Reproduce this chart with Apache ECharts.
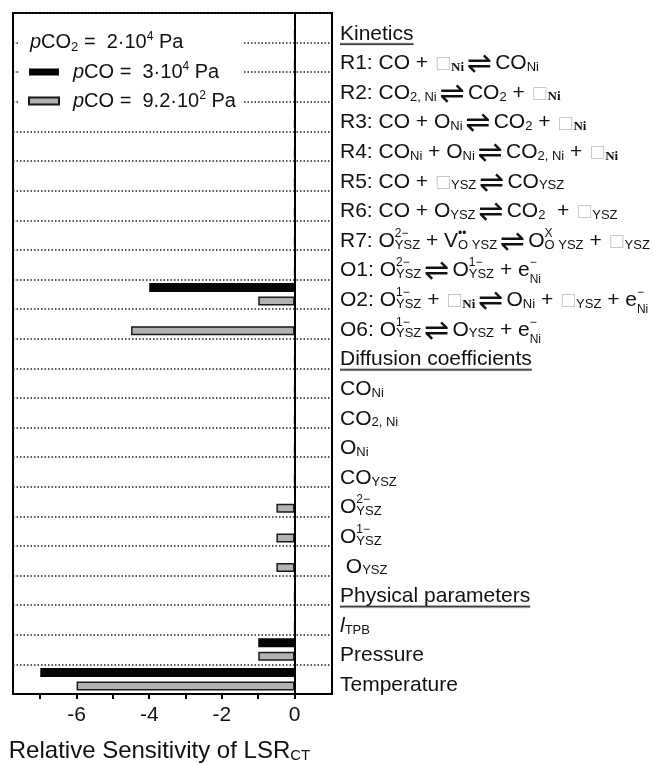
<!DOCTYPE html>
<html>
<head>
<meta charset="utf-8">
<script src="https://cdn.jsdelivr.net/npm/echarts@6/dist/echarts.min.js"></script>
<style>
html,body{margin:0;padding:0;background:#fff;}
#chart{width:654px;height:765px;}
</style>
</head>
<body>
<div id="chart"></div>
<script>
// ---- data ----
const categories = ['Kinetics','R1','R2','R3','R4','R5','R6','R7','O1','O2','O6',
  'Diffusion','CO_Ni','CO2_Ni','O_Ni','CO_YSZ','O2m_YSZ','O1m_YSZ','O_YSZ',
  'Physical','l_TPB','Pressure','Temperature'];
const seriesNames = ['pCO = 3·10^4 Pa', 'pCO = 9.2·10^2 Pa'];
const pCOHigh = [0,0,0,0,0,0,0,0,0,-4,0, 0,0,0,0,0,0,0,0, 0,0,-1,-7];
const pCOLow  = [0,0,0,0,0,0,0,0,0,-1,-4.5, 0,0,0,0,0,-0.5,-0.5,-0.5, 0,0,-1,-6];
const xTickLabels = [-6,-4,-2,0];
const xTicks = [-7,-6,-5,-4,-3,-2,-1,0];

// ---- label rich text ----
const labelText = {
  'Kinetics': '{h|Kinetics}',
  'R1': '{n|R1: CO + }{b|□}{bs|Ni}{a|⇌}{n|CO}{s|Ni}',
  'R2': '{n|R2: CO}{s|2, Ni}{a|⇌}{n|CO}{s|2}{n| + }{b|□}{bs|Ni}',
  'R3': '{n|R3: CO + O}{s|Ni}{a|⇌}{n|CO}{s|2}{n| + }{b|□}{bs|Ni}',
  'R4': '{n|R4: CO}{s|Ni}{n| + O}{s|Ni}{a|⇌}{n|CO}{s|2, Ni}{n| + }{b|□}{bs|Ni}',
  'R5': '{n|R5: CO + }{b|□}{s|YSZ}{a|⇌}{n|CO}{s|YSZ}',
  'R6': '{n|R6: CO + O}{s|YSZ}{a|⇌}{n|CO}{s|2}{n|  + }{b|□}{s|YSZ}',
  'R7': '{n|R7: O}{p0|2−}{s|YSZ}{n| + V}{p0|••}{s|O YSZ}{a|⇌}{n|O}{p0|X}{s|O YSZ}{n| + }{b|□}{s|YSZ}',
  'O1': '{n|O1: O}{p0|2−}{s|YSZ}{a|⇌}{n|O}{p0|1−}{s|YSZ}{n| + e}{p0|−}{sd|Ni}',
  'O2': '{n|O2: O}{p0|1−}{s|YSZ}{n| + }{b|□}{bs|Ni}{a|⇌}{n|O}{s|Ni}{n| + }{b|□}{s|YSZ}{n| + e}{p0|−}{sd|Ni}',
  'O6': '{n|O6: O}{p0|1−}{s|YSZ}{a|⇌}{n|O}{s|YSZ}{n| + e}{p0|−}{sd|Ni}',
  'Diffusion': '{h|Diffusion coefficients}',
  'CO_Ni': '{n|CO}{s|Ni}',
  'CO2_Ni': '{n|CO}{s|2, Ni}',
  'O_Ni': '{n|O}{s|Ni}',
  'CO_YSZ': '{n|CO}{s|YSZ}',
  'O2m_YSZ': '{n|O}{p0|2−}{s|YSZ}',
  'O1m_YSZ': '{n|O}{p0|1−}{s|YSZ}',
  'O_YSZ': '{n| O}{s|YSZ}',
  'Physical': '{h|Physical parameters}',
  'l_TPB': '{i|l}{s|TPB}',
  'Pressure': '{n|Pressure}',
  'Temperature': '{n|Temperature}'
};

const SANS = '"Liberation Sans", Arial, sans-serif';
const TXT = '#111';

// underline image for header tokens
const ul = document.createElement('canvas');
ul.width = 4; ul.height = 28;
(function(){ const c = ul.getContext('2d'); c.fillStyle = '#111'; c.fillRect(0, 23.5, 4, 1.6); })();

const LH = 28;
const FS = 21;
const rich = {
  n:  {fontFamily: SANS, fontSize: FS, color: TXT, lineHeight: LH, height: LH, verticalAlign: 'middle', align: 'left'},
  i:  {fontFamily: SANS, fontSize: FS, fontStyle: 'italic', color: TXT, lineHeight: LH, height: LH, verticalAlign: 'middle', align: 'left'},
  h:  {fontFamily: SANS, fontSize: FS, color: TXT, lineHeight: LH, height: LH, verticalAlign: 'middle', align: 'left', backgroundColor: {image: ul}},
  s:  {fontFamily: SANS, fontSize: 13, color: TXT, lineHeight: LH, height: 20, verticalAlign: 'bottom', align: 'left'},
  sd: {fontFamily: SANS, fontSize: 12, color: TXT, lineHeight: LH, height: 9, verticalAlign: 'bottom', align: 'left'},
  p0: {fontFamily: SANS, fontSize: 12, color: TXT, lineHeight: LH, height: 13, verticalAlign: 'top', align: 'left', width: 0},
  b:  {fontFamily: '"DejaVu Sans"', fontSize: 17, color: '#c8c8c8', lineHeight: LH, height: 27, verticalAlign: 'bottom', align: 'left', padding: [0, 0, 0, 1]},
  bs: {fontFamily: '"Liberation Serif", serif', fontWeight: 'bold', fontSize: 13, color: TXT, lineHeight: LH, height: 20, verticalAlign: 'bottom', align: 'left'},
  a:  {fontFamily: '"DejaVu Sans"', fontSize: 30, color: TXT, lineHeight: LH, height: 24, verticalAlign: 'bottom', align: 'left', padding: [0, 3, 0, 3]}
};

const legendRich = {
  l:  {fontFamily: SANS, fontSize: 20, color: TXT, lineHeight: 20, height: 20, verticalAlign: 'middle'},
  pi: {fontFamily: SANS, fontSize: 20, fontStyle: 'italic', color: TXT, lineHeight: 20, height: 20, verticalAlign: 'middle', padding: [0, 0, 0, 9]},
  pi0:{fontFamily: SANS, fontSize: 20, fontStyle: 'italic', color: TXT, lineHeight: 20, height: 20, verticalAlign: 'middle'},
  lp: {fontFamily: SANS, fontSize: 12, color: TXT, lineHeight: 20, height: 10, verticalAlign: 'top'},
  ls: {fontFamily: SANS, fontSize: 13, color: TXT, lineHeight: 20, height: 10, verticalAlign: 'bottom'}
};
const legendText = {
  'pCO = 3·10^4 Pa': '{pi|p}{l|CO =  3·10}{lp|4}{l| Pa}',
  'pCO = 9.2·10^2 Pa': '{pi|p}{l|CO =  9.2·10}{lp|2}{l| Pa}'
};

const chart = echarts.init(document.getElementById('chart'), null, {renderer: 'canvas'});
chart.setOption({
  animation: false,
  backgroundColor: '#fff',
  grid: {left: 13, right: 322, top: 13, bottom: 71, show: true, borderColor: '#000', borderWidth: 2,
         containLabel: false, outerBoundsMode: 'none'},
  legend: {
    data: seriesNames,
    orient: 'vertical',
    left: 20, top: 26,
    padding: [35, 6, 6, 8],
    itemGap: 8,
    itemWidth: 30, itemHeight: 7,
    icon: 'rect',
    backgroundColor: '#fff',
    formatter: name => legendText[name],
    textStyle: {fontFamily: SANS, fontSize: 20, color: TXT, rich: legendRich}
  },
  graphic: [{
    type: 'text', z: 100, left: 30, top: 31,
    style: {text: '{pi0|p}{l|CO}{ls|2}{l| =  2·10}{lp|4}{l| Pa}', rich: legendRich, fontFamily: SANS, fontSize: 20, fill: TXT}
  }],
  xAxis: {
    type: 'value', min: -7.75, max: 1.03,
    name: '{t|Relative Sensitivity of LSR}{ts|CT}',
    nameLocation: 'middle', nameGap: 43,
    nameTextStyle: {padding: [0, 26, 0, 0], rich: {
      t: {fontFamily: SANS, fontSize: 24, color: TXT, lineHeight: 28, height: 28, verticalAlign: 'middle'},
      ts: {fontFamily: SANS, fontSize: 15, color: TXT, lineHeight: 28, height: 19, verticalAlign: 'bottom'}
    }},
    axisLine: {show: true, onZero: false, lineStyle: {color: '#000', width: 2}},
    axisTick: {show: true, inside: false, length: 5, customValues: xTicks, lineStyle: {color: '#000', width: 2}},
    axisLabel: {show: true, customValues: xTickLabels, margin: 11, fontFamily: SANS, fontSize: 21, color: TXT},
    splitLine: {show: false}
  },
  yAxis: {
    type: 'category', data: categories, inverse: true, position: 'right',
    axisLine: {show: true, lineStyle: {color: '#000', width: 2}},
    axisTick: {show: false},
    splitLine: {show: true, lineStyle: {color: '#222', width: 1.5, type: [1.5, 2]}},
    axisLabel: {show: true, interval: 0, margin: 8, padding: [12, 0, 0, 0], lineHeight: LH,
      formatter: v => labelText[v], rich: rich, fontFamily: SANS, fontSize: FS, color: TXT}
  },
  series: [
    {
      name: seriesNames[0], type: 'bar', data: pCOHigh, barWidth: 9, barGap: '50%',
      itemStyle: {color: '#050505'},
      markLine: {silent: true, symbol: ['none', 'none'], label: {show: false},
        lineStyle: {color: '#000', type: 'solid', width: 2}, data: [{xAxis: 0}]}
    },
    {
      name: seriesNames[1], type: 'bar', data: pCOLow, barWidth: 9, barGap: '50%',
      itemStyle: {color: '#b2b2b2', borderColor: '#1a1a1a', borderWidth: 1.5}
    }
  ]
});
</script>
</body>
</html>
